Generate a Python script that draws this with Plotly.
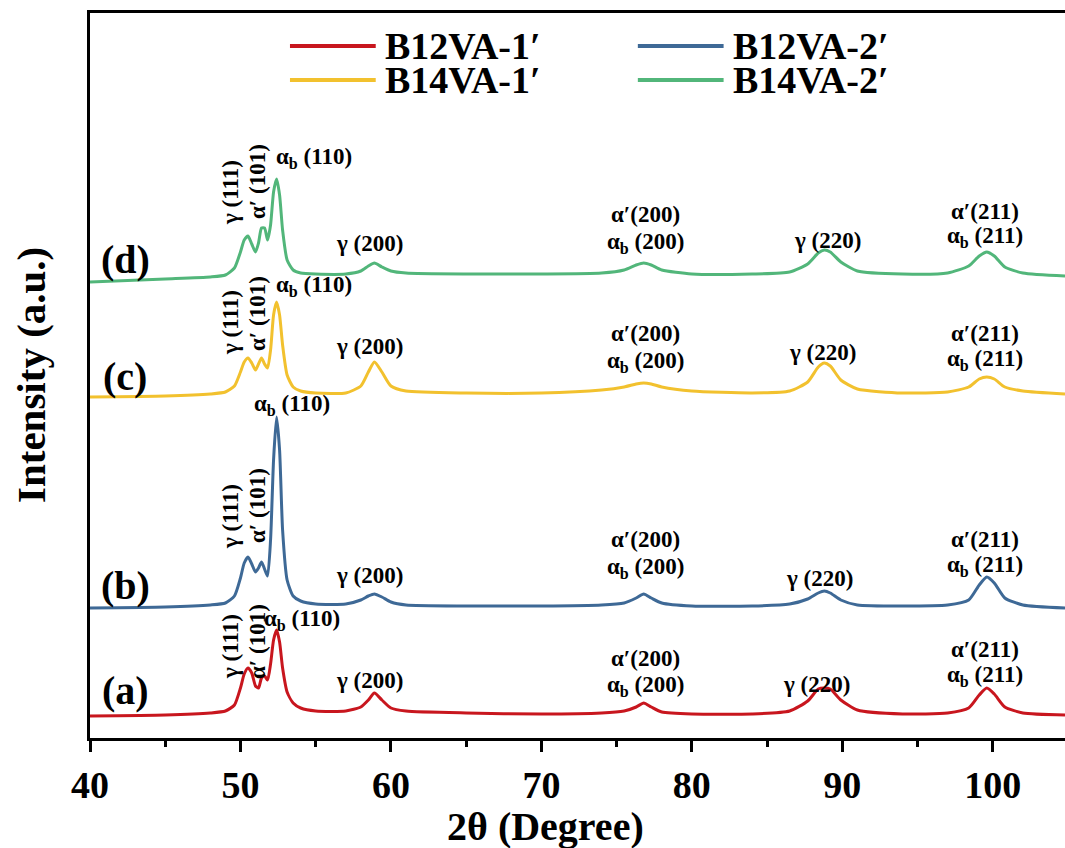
import plotly.graph_objects as go

# 2theta sample positions (degree)
two_theta = [40, 45, 48, 49, 49.6, 50.0, 50.25, 50.5, 50.75, 51.0, 51.2, 51.4, 51.6, 51.8, 52.0,
             52.2, 52.4, 52.6, 52.8, 53.1, 53.5, 54, 55, 57, 58, 58.5, 58.9, 59.4, 60, 61,
             65, 70, 74, 75.5, 76.3, 76.8, 77.3, 78, 80, 84, 86.5, 87.7, 88.4, 88.8, 89.2,
             89.9, 91, 94, 97, 98.4, 99.1, 99.6, 100.1, 100.8, 102, 104.8]

# offset intensities (a.u.)
b12va_1 = [22, 23, 25, 27, 33, 50, 64, 70, 65, 52, 50, 60, 62, 58, 74, 98, 108, 96, 70, 46,
           35, 30, 27, 27, 31, 38, 45, 38, 30, 27, 25, 24, 25, 27, 31, 35, 31, 26, 24, 24,
           27, 37, 49, 50, 49, 38, 28, 24, 25, 30, 43, 50, 44, 31, 25, 23]
b12va_2 = [130, 131, 133, 135, 142, 160, 175, 181, 174, 166, 170, 176, 169, 162, 198, 278, 321, 288, 208, 158,
           142, 137, 134, 134, 138, 142, 144, 141, 136, 133, 132, 132, 133, 135, 140, 144, 140, 135, 132, 132,
           134, 139, 145, 147, 145, 138, 133, 132, 133, 138, 153, 161, 155, 140, 133, 130]
b14va_1 = [341, 342, 344, 346, 352, 366, 376, 380, 375, 368, 374, 380, 374, 370, 388, 423, 436, 423, 393, 363,
           351, 347, 345, 345, 352, 366, 376, 366, 352, 347, 345, 345, 348, 351, 354, 355, 354, 351, 347, 345,
           347, 356, 371, 375, 372, 358, 349, 345, 346, 351, 359, 361, 359, 351, 347, 344]
b14va_2 = [456, 459, 461, 463, 470, 486, 498, 502, 494, 486, 495, 510, 510, 498, 513, 546, 559, 543, 508, 478,
           468, 465, 464, 464, 467, 472, 475, 471, 467, 465, 464, 464, 465, 468, 473, 475, 473, 468, 464, 464,
           466, 474, 485, 488, 486, 476, 467, 464, 465, 472, 482, 486, 482, 471, 465, 462]

series_names = ["B12VA-1′", "B12VA-2′", "B14VA-1′", "B14VA-2′"]
series_values = [b12va_1, b12va_2, b14va_1, b14va_2]
series_colors = ["#c8161e", "#3e6996", "#f2c12e", "#52b67a"]
curve_tags = ["(a)", "(b)", "(c)", "(d)"]

x_ticks = [40, 50, 60, 70, 80, 90, 100]

SERIF = "Liberation Serif"

fig = go.Figure()
for name, vals, col in zip(series_names, series_values, series_colors):
    assert len(vals) == len(two_theta)
    fig.add_trace(go.Scatter(x=two_theta, y=vals, mode="lines", name=name,
                             line=dict(color=col, width=3, shape="spline", smoothing=0.6),
                             showlegend=False))

ann = []
def lab(text, x, y, size=23, angle=0, xanchor="center"):
    ann.append(dict(text=text, x=x, y=y, xref="x", yref="y", showarrow=False,
                    textangle=angle, xanchor=xanchor,
                    font=dict(family=SERIF, size=size, color="black", weight="bold")))

ab = "α<sub>b</sub>"
peak_labels = [
    # (a)
    [("γ (111)", 49.3, 92, -90), ("α′ (101)", 51.1, 96, -90), (ab + " (110)", 54.1, 118, 0),
     ("γ (200)", 58.6, 58, 0), ("α′(200)", 76.9, 80, 0), (ab + " (200)", 76.9, 52, 0),
     ("γ (220)", 88.3, 54, 0), ("α′(211)", 99.5, 89, 0), (ab + " (211)", 99.5, 62, 0)],
    # (b)
    [("γ (111)", 49.3, 222, -90), ("α′ (101)", 51.1, 232, -90), (ab + " (110)", 53.4, 333, 0),
     ("γ (200)", 58.6, 163, 0), ("α′(200)", 76.9, 199, 0), (ab + " (200)", 76.9, 170, 0),
     ("γ (220)", 88.5, 160, 0), ("α′(211)", 99.5, 199, 0), (ab + " (211)", 99.5, 172, 0)],
    # (c)
    [("γ (111)", 49.3, 416, -90), ("α′ (101)", 51.1, 424, -90), (ab + " (110)", 54.9, 452, 0),
     ("γ (200)", 58.6, 392, 0), ("α′(200)", 76.9, 405, 0), (ab + " (200)", 76.9, 376, 0),
     ("γ (220)", 88.7, 386, 0), ("α′(211)", 99.5, 405, 0), (ab + " (211)", 99.5, 378, 0)],
    # (d)
    [("γ (111)", 49.3, 546, -90), ("α′ (101)", 51.1, 556, -90), (ab + " (110)", 54.9, 580, 0),
     ("γ (200)", 58.6, 495, 0), ("α′(200)", 76.9, 524, 0), (ab + " (200)", 76.9, 495, 0),
     ("γ (220)", 89.0, 498, 0), ("α′(211)", 99.5, 527, 0), (ab + " (211)", 99.5, 501, 0)],
]
for group in peak_labels:
    for t, x, y, a in group:
        lab(t, x, y, angle=a)

tag_y = [48, 153, 362, 479]
for t, y in zip(curve_tags, tag_y):
    lab(t, 42.35, y, size=40)

# custom legend (long line samples like the original)
leg_pos = [(53.29, 692), (76.41, 692), (53.29, 658), (76.41, 658)]
shapes = []
for (lx, ly), name, col in zip(leg_pos, series_names, series_colors):
    shapes.append(dict(type="line", xref="x", yref="y", x0=lx, x1=lx + 5.7, y0=ly, y1=ly,
                       line=dict(color=col, width=4)))
    ann.append(dict(text=name, x=lx + 6.2, y=ly, xref="x", yref="y", xanchor="left",
                    showarrow=False, font=dict(family=SERIF, size=38, color="black", weight="bold")))

# axis titles
ann.append(dict(text="2θ (Degree)", xref="paper", yref="paper", x=(545 - 90) / 975,
                y=(738 - 826) / 725, xanchor="center", yanchor="middle", showarrow=False,
                font=dict(family=SERIF, size=40, color="black", weight="bold")))
ann.append(dict(text="Intensity (a.u.)", xref="paper", yref="paper", x=(31 - 90) / 975,
                y=(738 - 375) / 725, xanchor="center", yanchor="middle", showarrow=False,
                textangle=-90, font=dict(family=SERIF, size=41, color="black", weight="bold")))

fig.update_layout(
    width=1065, height=848,
    margin=dict(l=90, r=0, t=13, b=110),
    plot_bgcolor="white", paper_bgcolor="white",
    annotations=ann, shapes=shapes,
    xaxis=dict(range=[40, 104.8], tickvals=x_ticks, ticks="outside", ticklen=11, tickwidth=3,
               tickcolor="black", showline=True, linewidth=3, linecolor="black", mirror=True,
               showgrid=False, zeroline=False, ticklabelstandoff=0,
               minor=dict(dtick=5, tick0=45, ticks="outside", ticklen=6, tickwidth=3, tickcolor="black"),
               tickfont=dict(family=SERIF, size=38, color="black", weight="bold")),
    yaxis=dict(range=[0, 725], showticklabels=False, ticks="", showline=True, linewidth=3,
               linecolor="black", mirror=False, showgrid=False, zeroline=False),
)

fig.write_html("out.html")
